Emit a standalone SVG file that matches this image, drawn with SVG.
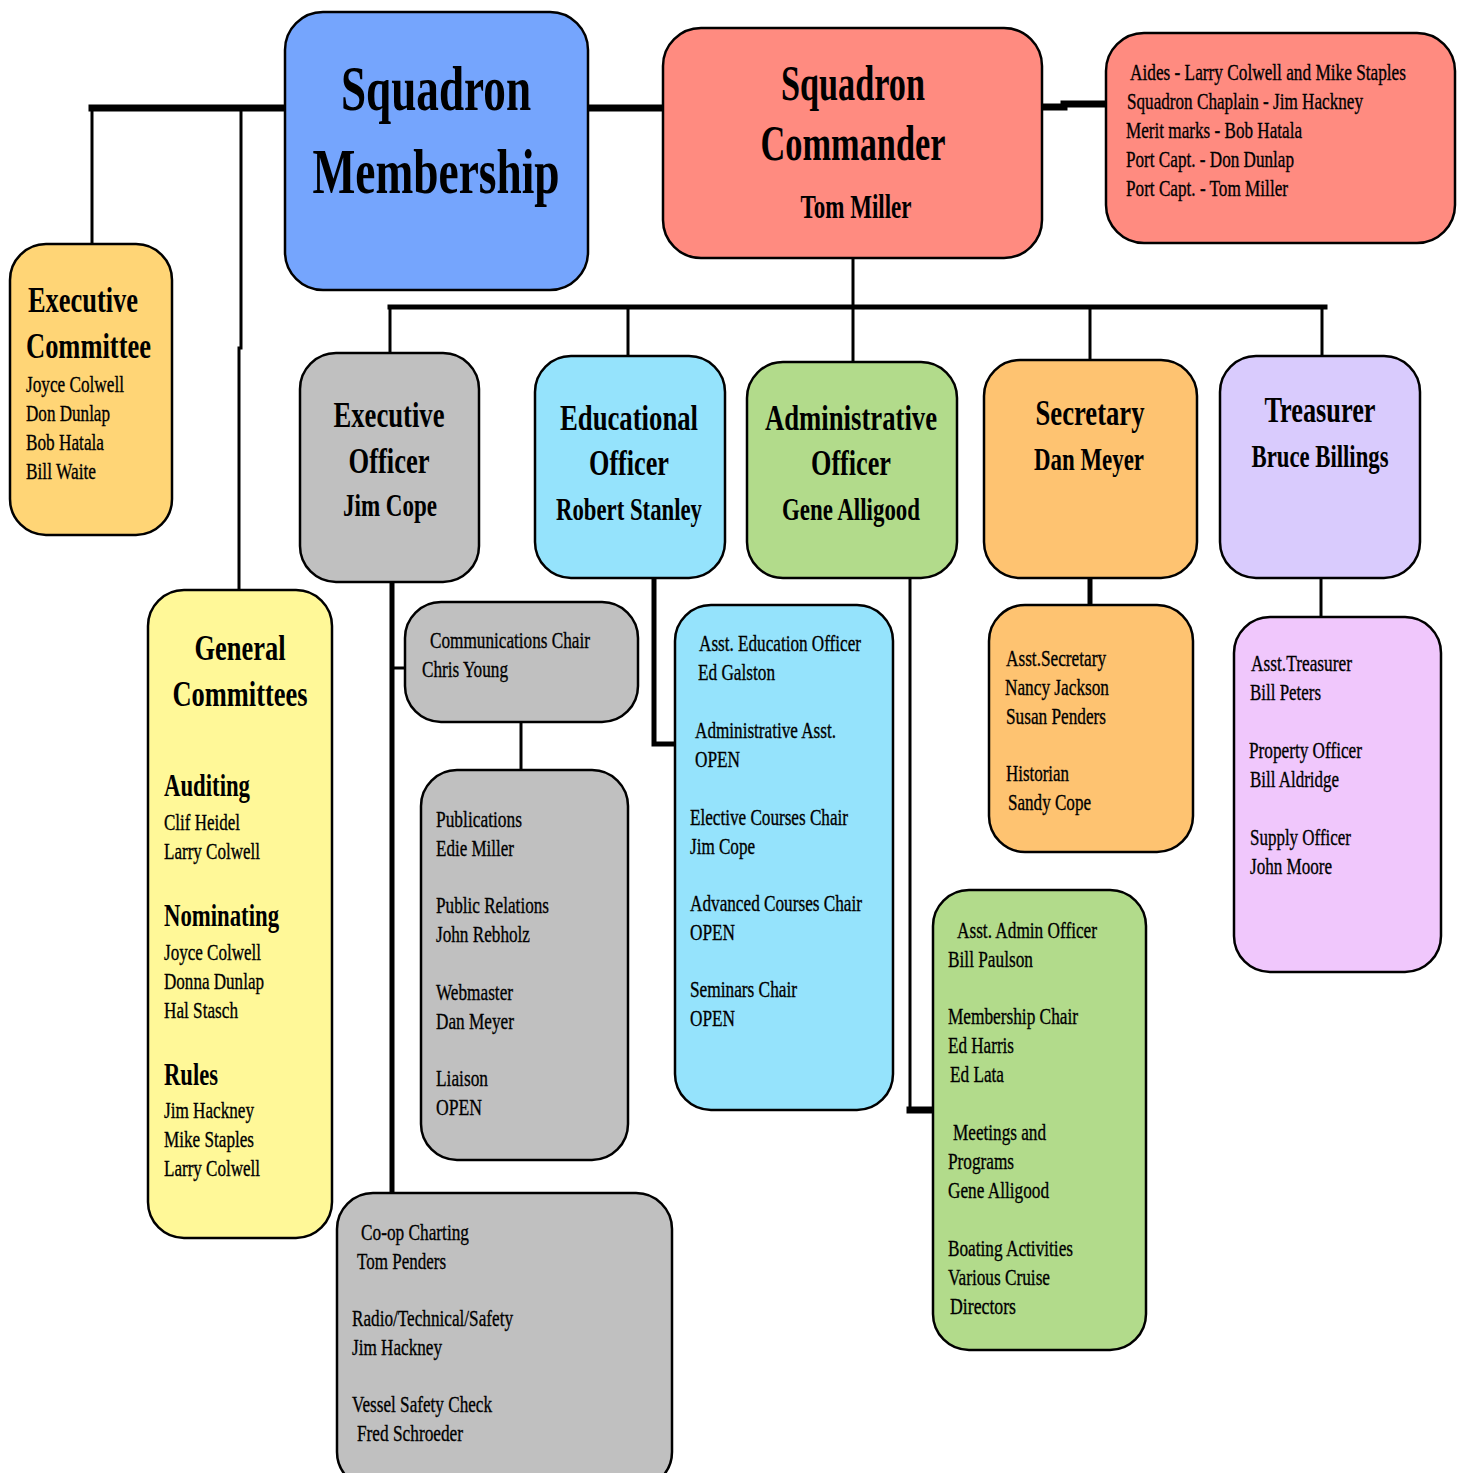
<svg xmlns="http://www.w3.org/2000/svg" width="1458" height="1473" viewBox="0 0 1458 1473">
<style>
.box{stroke:#000;stroke-width:2.5}
.t{font-family:"Liberation Serif","Times New Roman",serif;fill:#000}
.b{font-weight:bold}
.s{font-size:24px;stroke:#000;stroke-width:0.35}
.h{font-size:36px;font-weight:bold}
.n{font-size:32px;font-weight:bold}
.c{stroke:#000;fill:none;stroke-linecap:square}
.thin{stroke-width:3}
.thick{stroke-width:7}
.mid{stroke-width:5}
</style>
<rect width="1458" height="1473" fill="#fff"/>
<g id="connectors">
<path class="c thick" d="M92 108 H285"/>
<path class="c thin" d="M92 108 V244"/>
<path class="c thin" d="M241 108 V348"/>
<path class="c thin" d="M239 348 V590"/>
<path class="c thick" d="M588 108 H663"/>
<path class="c thick" d="M1042 107 H1064"/>
<path class="c thick" d="M1064 104 H1106"/>
<path class="c thin" d="M853 258 V307"/>
<path class="c mid" d="M390 307 H1325"/>
<path class="c thin" d="M390 307 V353"/>
<path class="c thin" d="M628 307 V356"/>
<path class="c thin" d="M853 307 V362"/>
<path class="c thin" d="M1090 307 V360"/>
<path class="c thin" d="M1322 307 V356"/>
<path class="c mid" d="M392 582 V1193"/>
<path class="c thin" d="M392 668 H405"/>
<path class="c thin" d="M521 722 V770"/>
<path class="c mid" d="M654 578 V744 H675"/>
<path class="c thin" d="M910 578 V1110"/>
<path class="c thick" d="M910 1110 H933"/>
<path class="c mid" d="M1090 578 V605"/>
<path class="c thin" d="M1321 573 V617"/>
</g>
<g id="membership">
<rect class="box" x="285" y="12" width="303" height="278" rx="38" fill="#75A5FD"/>
<text class="t b" x="436" y="110" font-size="64" text-anchor="middle" textLength="190" lengthAdjust="spacingAndGlyphs">Squadron</text>
<text class="t b" x="436" y="193" font-size="64" text-anchor="middle" textLength="247" lengthAdjust="spacingAndGlyphs">Membership</text>
</g>
<g id="commander">
<rect class="box" x="663" y="28" width="379" height="230" rx="38" fill="#FF8B80"/>
<text class="t b" x="853" y="100" font-size="50" text-anchor="middle" textLength="144" lengthAdjust="spacingAndGlyphs">Squadron</text>
<text class="t b" x="853" y="160" font-size="50" text-anchor="middle" textLength="185" lengthAdjust="spacingAndGlyphs">Commander</text>
<text class="t b" x="856" y="218" font-size="34" text-anchor="middle" textLength="111" lengthAdjust="spacingAndGlyphs">Tom Miller</text>
</g>
<g id="aides">
<rect class="box" x="1106" y="33" width="349" height="210" rx="38" fill="#FF8B80"/>
<text class="t s" transform="translate(1130,80) scale(0.8,1)" x="0" y="0" textLength="345" lengthAdjust="spacingAndGlyphs">Aides - Larry Colwell and Mike Staples</text>
<text class="t s" x="1127" y="109" textLength="236" lengthAdjust="spacingAndGlyphs">Squadron Chaplain - Jim Hackney</text>
<text class="t s" x="1126" y="138" textLength="176" lengthAdjust="spacingAndGlyphs">Merit marks - Bob Hatala</text>
<text class="t s" x="1126" y="167" textLength="168" lengthAdjust="spacingAndGlyphs">Port Capt. - Don Dunlap</text>
<text class="t s" x="1126" y="196" textLength="162" lengthAdjust="spacingAndGlyphs">Port Capt. - Tom Miller</text>
</g>
<g id="exec-committee">
<rect class="box" x="10" y="244" width="162" height="291" rx="36" fill="#FFD576"/>
<text class="t h" x="28" y="312" textLength="110" lengthAdjust="spacingAndGlyphs">Executive</text>
<text class="t h" x="26" y="358" textLength="125" lengthAdjust="spacingAndGlyphs">Committee</text>
<text class="t s" x="26" y="392" textLength="98" lengthAdjust="spacingAndGlyphs">Joyce Colwell</text>
<text class="t s" x="26" y="421" textLength="84" lengthAdjust="spacingAndGlyphs">Don Dunlap</text>
<text class="t s" x="26" y="450" textLength="78" lengthAdjust="spacingAndGlyphs">Bob Hatala</text>
<text class="t s" x="26" y="479" textLength="70" lengthAdjust="spacingAndGlyphs">Bill Waite</text>
</g>
<g id="exec-officer">
<rect class="box" x="300" y="353" width="179" height="229" rx="36" fill="#C0C0C0"/>
<text class="t h" x="389" y="427" text-anchor="middle" textLength="111" lengthAdjust="spacingAndGlyphs">Executive</text>
<text class="t h" x="389" y="473" text-anchor="middle" textLength="81" lengthAdjust="spacingAndGlyphs">Officer</text>
<text class="t n" x="390" y="516" text-anchor="middle" textLength="94" lengthAdjust="spacingAndGlyphs">Jim Cope</text>
</g>
<g id="edu-officer">
<rect class="box" x="535" y="356" width="190" height="222" rx="36" fill="#95E3FC"/>
<text class="t h" x="629" y="430" text-anchor="middle" textLength="138" lengthAdjust="spacingAndGlyphs">Educational</text>
<text class="t h" x="629" y="475" text-anchor="middle" textLength="80" lengthAdjust="spacingAndGlyphs">Officer</text>
<text class="t n" x="629" y="520" text-anchor="middle" textLength="146" lengthAdjust="spacingAndGlyphs">Robert Stanley</text>
</g>
<g id="admin-officer">
<rect class="box" x="747" y="362" width="210" height="216" rx="36" fill="#B2DB8B"/>
<text class="t h" x="851" y="430" text-anchor="middle" textLength="172" lengthAdjust="spacingAndGlyphs">Administrative</text>
<text class="t h" x="851" y="475" text-anchor="middle" textLength="80" lengthAdjust="spacingAndGlyphs">Officer</text>
<text class="t n" x="851" y="520" text-anchor="middle" textLength="138" lengthAdjust="spacingAndGlyphs">Gene Alligood</text>
</g>
<g id="secretary">
<rect class="box" x="984" y="360" width="213" height="218" rx="36" fill="#FEC371"/>
<text class="t h" x="1090" y="425" text-anchor="middle" textLength="109" lengthAdjust="spacingAndGlyphs">Secretary</text>
<text class="t n" x="1089" y="470" text-anchor="middle" textLength="110" lengthAdjust="spacingAndGlyphs">Dan Meyer</text>
</g>
<g id="treasurer">
<rect class="box" x="1220" y="356" width="200" height="222" rx="36" fill="#D9CBFD"/>
<text class="t h" x="1320" y="422" text-anchor="middle" textLength="111" lengthAdjust="spacingAndGlyphs">Treasurer</text>
<text class="t n" x="1320" y="467" text-anchor="middle" textLength="137" lengthAdjust="spacingAndGlyphs">Bruce Billings</text>
</g>
<g id="general-committees">
<rect class="box" x="148" y="590" width="184" height="648" rx="36" fill="#FFF898"/>
<text class="t h" x="240" y="660" text-anchor="middle" textLength="91" lengthAdjust="spacingAndGlyphs">General</text>
<text class="t h" x="240" y="706" text-anchor="middle" textLength="135" lengthAdjust="spacingAndGlyphs">Committees</text>
<text class="t n" x="164" y="796" textLength="86" lengthAdjust="spacingAndGlyphs">Auditing</text>
<text class="t s" x="164" y="830" textLength="76" lengthAdjust="spacingAndGlyphs">Clif Heidel</text>
<text class="t s" x="164" y="859" textLength="96" lengthAdjust="spacingAndGlyphs">Larry Colwell</text>
<text class="t n" x="164" y="926" textLength="115" lengthAdjust="spacingAndGlyphs">Nominating</text>
<text class="t s" x="164" y="960" textLength="97" lengthAdjust="spacingAndGlyphs">Joyce Colwell</text>
<text class="t s" x="164" y="989" textLength="100" lengthAdjust="spacingAndGlyphs">Donna Dunlap</text>
<text class="t s" x="164" y="1018" textLength="74" lengthAdjust="spacingAndGlyphs">Hal Stasch</text>
<text class="t n" x="164" y="1085" textLength="54" lengthAdjust="spacingAndGlyphs">Rules</text>
<text class="t s" x="164" y="1118" textLength="90" lengthAdjust="spacingAndGlyphs">Jim Hackney</text>
<text class="t s" x="164" y="1147" textLength="90" lengthAdjust="spacingAndGlyphs">Mike Staples</text>
<text class="t s" x="164" y="1176" textLength="96" lengthAdjust="spacingAndGlyphs">Larry Colwell</text>
</g>
<g id="communications">
<rect class="box" x="405" y="602" width="233" height="120" rx="36" fill="#C0C0C0"/>
<text class="t s" x="430" y="648" textLength="160" lengthAdjust="spacingAndGlyphs">Communications Chair</text>
<text class="t s" x="422" y="677" textLength="86" lengthAdjust="spacingAndGlyphs">Chris Young</text>
</g>
<g id="publications">
<rect class="box" x="421" y="770" width="207" height="390" rx="36" fill="#C0C0C0"/>
<text class="t s" x="436" y="827" textLength="86" lengthAdjust="spacingAndGlyphs">Publications</text>
<text class="t s" x="436" y="856" textLength="78" lengthAdjust="spacingAndGlyphs">Edie Miller</text>
<text class="t s" x="436" y="913" textLength="113" lengthAdjust="spacingAndGlyphs">Public Relations</text>
<text class="t s" x="436" y="942" textLength="94" lengthAdjust="spacingAndGlyphs">John Rebholz</text>
<text class="t s" x="436" y="1000" textLength="77" lengthAdjust="spacingAndGlyphs">Webmaster</text>
<text class="t s" x="436" y="1029" textLength="78" lengthAdjust="spacingAndGlyphs">Dan Meyer</text>
<text class="t s" x="436" y="1086" textLength="52" lengthAdjust="spacingAndGlyphs">Liaison</text>
<text class="t s" x="436" y="1115" textLength="46" lengthAdjust="spacingAndGlyphs">OPEN</text>
</g>
<g id="coop">
<rect class="box" x="337" y="1193" width="335" height="295" rx="36" fill="#C0C0C0"/>
<text class="t s" x="361" y="1240" textLength="108" lengthAdjust="spacingAndGlyphs">Co-op Charting</text>
<text class="t s" x="357" y="1269" textLength="89" lengthAdjust="spacingAndGlyphs">Tom Penders</text>
<text class="t s" x="352" y="1326" textLength="161" lengthAdjust="spacingAndGlyphs">Radio/Technical/Safety</text>
<text class="t s" x="352" y="1355" textLength="90" lengthAdjust="spacingAndGlyphs">Jim Hackney</text>
<text class="t s" x="352" y="1412" textLength="140" lengthAdjust="spacingAndGlyphs">Vessel Safety Check</text>
<text class="t s" x="357" y="1441" textLength="106" lengthAdjust="spacingAndGlyphs">Fred Schroeder</text>
</g>
<g id="asst-education">
<rect class="box" x="675" y="605" width="218" height="505" rx="36" fill="#95E3FC"/>
<text class="t s" x="699" y="651" textLength="162" lengthAdjust="spacingAndGlyphs">Asst. Education Officer</text>
<text class="t s" x="698" y="680" textLength="77" lengthAdjust="spacingAndGlyphs">Ed Galston</text>
<text class="t s" x="695" y="738" textLength="141" lengthAdjust="spacingAndGlyphs">Administrative Asst.</text>
<text class="t s" x="695" y="767" textLength="45" lengthAdjust="spacingAndGlyphs">OPEN</text>
<text class="t s" x="690" y="825" textLength="158" lengthAdjust="spacingAndGlyphs">Elective Courses Chair</text>
<text class="t s" x="690" y="854" textLength="65" lengthAdjust="spacingAndGlyphs">Jim Cope</text>
<text class="t s" x="690" y="911" textLength="172" lengthAdjust="spacingAndGlyphs">Advanced Courses Chair</text>
<text class="t s" x="690" y="940" textLength="45" lengthAdjust="spacingAndGlyphs">OPEN</text>
<text class="t s" x="690" y="997" textLength="107" lengthAdjust="spacingAndGlyphs">Seminars Chair</text>
<text class="t s" x="690" y="1026" textLength="45" lengthAdjust="spacingAndGlyphs">OPEN</text>
</g>
<g id="asst-admin">
<rect class="box" x="933" y="890" width="213" height="460" rx="36" fill="#B2DB8B"/>
<text class="t s" x="957" y="938" textLength="140" lengthAdjust="spacingAndGlyphs">Asst. Admin Officer</text>
<text class="t s" x="948" y="967" textLength="85" lengthAdjust="spacingAndGlyphs">Bill Paulson</text>
<text class="t s" x="948" y="1024" textLength="130" lengthAdjust="spacingAndGlyphs">Membership Chair</text>
<text class="t s" x="948" y="1053" textLength="66" lengthAdjust="spacingAndGlyphs">Ed Harris</text>
<text class="t s" x="950" y="1082" textLength="54" lengthAdjust="spacingAndGlyphs">Ed Lata</text>
<text class="t s" x="953" y="1140" textLength="93" lengthAdjust="spacingAndGlyphs">Meetings and</text>
<text class="t s" x="948" y="1169" textLength="66" lengthAdjust="spacingAndGlyphs">Programs</text>
<text class="t s" x="948" y="1198" textLength="101" lengthAdjust="spacingAndGlyphs">Gene Alligood</text>
<text class="t s" x="948" y="1256" textLength="125" lengthAdjust="spacingAndGlyphs">Boating Activities</text>
<text class="t s" x="948" y="1285" textLength="102" lengthAdjust="spacingAndGlyphs">Various Cruise</text>
<text class="t s" x="950" y="1314" textLength="66" lengthAdjust="spacingAndGlyphs">Directors</text>
</g>
<g id="asst-secretary">
<rect class="box" x="989" y="605" width="204" height="247" rx="36" fill="#FEC371"/>
<text class="t s" x="1006" y="666" textLength="100" lengthAdjust="spacingAndGlyphs">Asst.Secretary</text>
<text class="t s" x="1005" y="695" textLength="104" lengthAdjust="spacingAndGlyphs">Nancy Jackson</text>
<text class="t s" x="1006" y="724" textLength="100" lengthAdjust="spacingAndGlyphs">Susan Penders</text>
<text class="t s" x="1006" y="781" textLength="63" lengthAdjust="spacingAndGlyphs">Historian</text>
<text class="t s" x="1008" y="810" textLength="83" lengthAdjust="spacingAndGlyphs">Sandy Cope</text>
</g>
<g id="asst-treasurer">
<rect class="box" x="1234" y="617" width="207" height="355" rx="36" fill="#F0C7FC"/>
<text class="t s" x="1251" y="671" textLength="101" lengthAdjust="spacingAndGlyphs">Asst.Treasurer</text>
<text class="t s" x="1250" y="700" textLength="71" lengthAdjust="spacingAndGlyphs">Bill Peters</text>
<text class="t s" x="1249" y="758" textLength="113" lengthAdjust="spacingAndGlyphs">Property Officer</text>
<text class="t s" x="1250" y="787" textLength="89" lengthAdjust="spacingAndGlyphs">Bill Aldridge</text>
<text class="t s" x="1250" y="845" textLength="101" lengthAdjust="spacingAndGlyphs">Supply Officer</text>
<text class="t s" x="1250" y="874" textLength="82" lengthAdjust="spacingAndGlyphs">John Moore</text>
</g>
</svg>
